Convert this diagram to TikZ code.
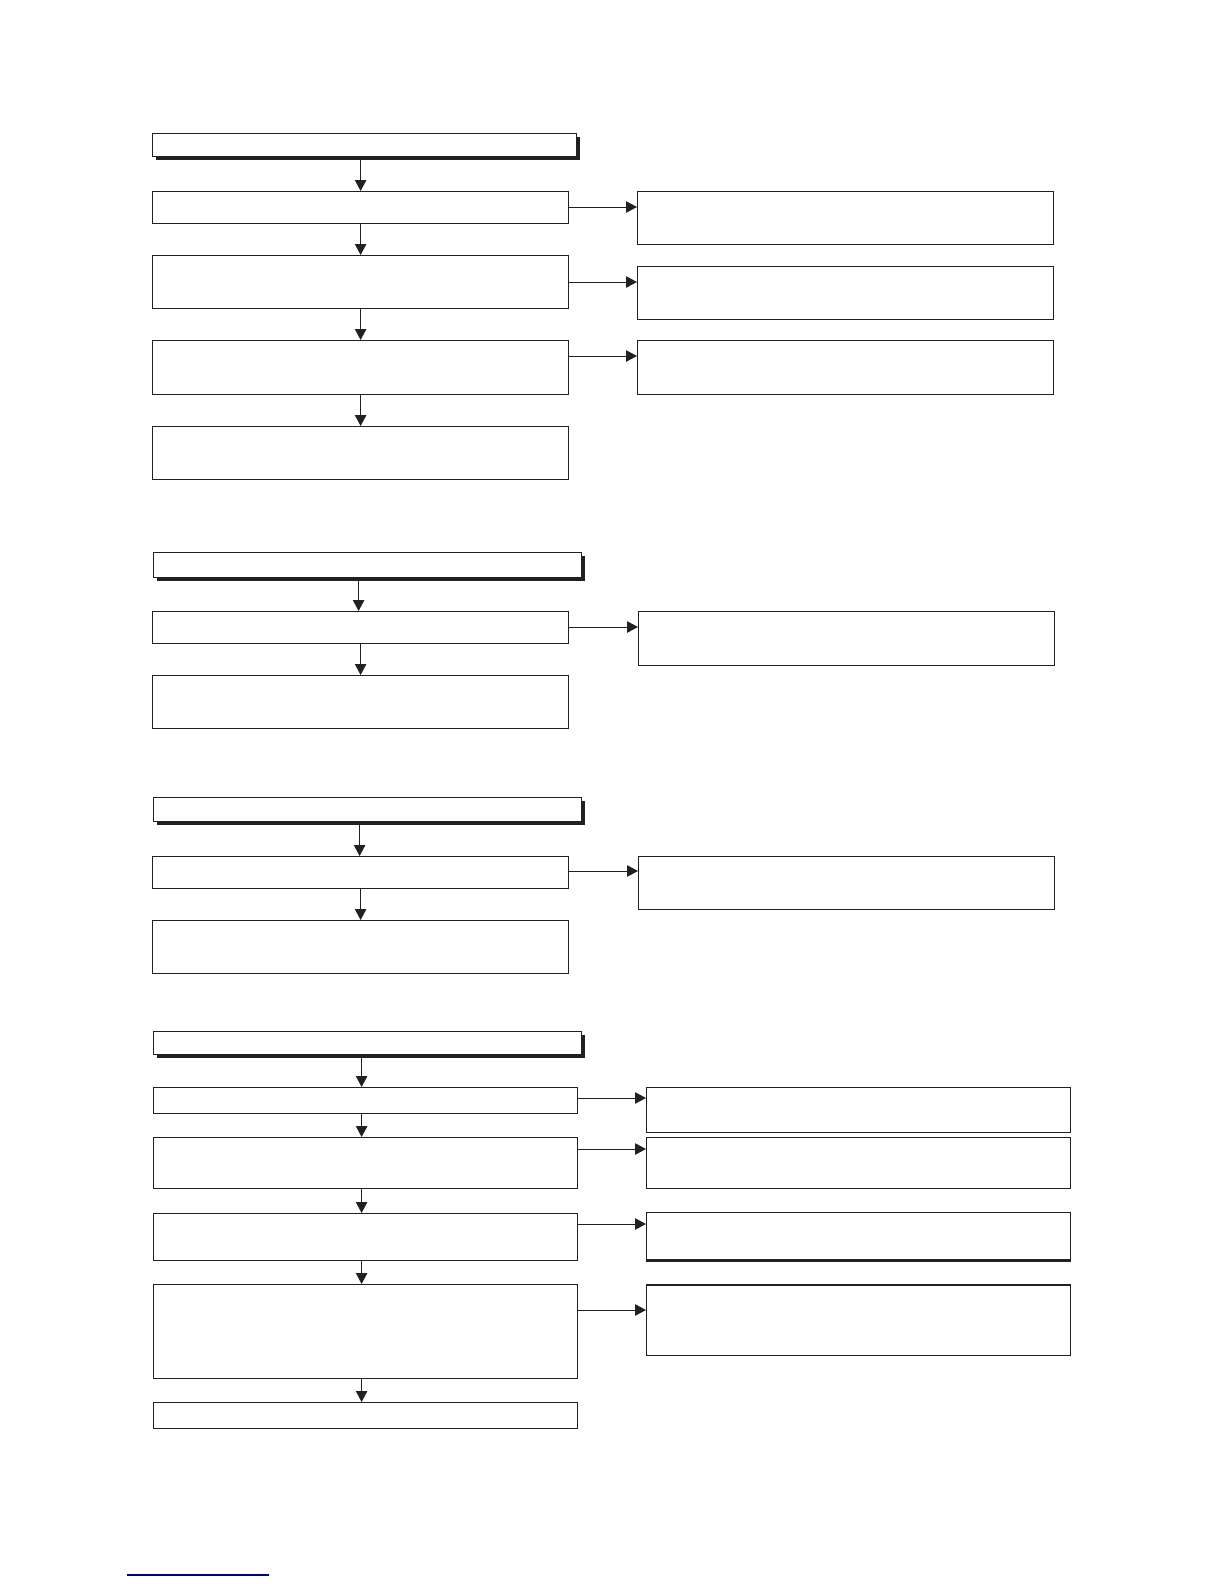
\documentclass[tikz,border=0pt]{standalone}
\usetikzlibrary{arrows.meta,shadows}

\tikzset{
  blk/.style={draw=black!87, line width=1.2pt, rectangle, inner sep=0pt, fill=white},
  kopfbox/.style={blk, drop shadow={shadow xshift=3.5pt, shadow yshift=-3.5pt, fill=black!87, opacity=1}},
  pfeil/.style={draw=black!87, line width=1pt, -{Triangle[length=11pt,width=11.5pt]}},
}

% name, x, y, breite, hoehe
\newcommand{\kasten}[5]{%
  \node[blk, anchor=north west, minimum width=#4pt, minimum height=#5pt] (#1) at (#2,#3) {};
}
\newcommand{\kopfzeile}[5]{%
  \node[kopfbox, anchor=north west, minimum width=#4pt, minimum height=#5pt] (#1) at (#2,#3) {};
}
% von, nach, abstand von oben
\newcommand{\seitlich}[3]{%
  \coordinate (#2-in) at ([yshift=-#3pt]#2.north west);
  \draw[pfeil] (#1.east |- #2-in) -- (#2-in);
}

\begin{document}
\begin{tikzpicture}[x=1pt,y=-1pt]
  \useasboundingbox (0,0) rectangle (1224,1584);

  %%%%%%%%%%%%%%%%%%%%%%%%%%%%%%%%%%%%%%%%%%%%%%%%%%%%%%%%%%%%%%%%%%%%%
  % Abschnitt 1
  \kopfzeile{kopfA}{152}{133}{424}{23}
  \kasten{a1}{152}{191}{416}{32}
  \kasten{a2}{152}{255}{416}{53}
  \kasten{a3}{152}{340}{416}{54}
  \kasten{a4}{152}{426}{416}{53}
  \kasten{ra1}{637}{191}{416}{53}
  \kasten{ra2}{637}{266}{416}{53}
  \kasten{ra3}{637}{340}{416}{54}

  \draw[pfeil] (kopfA.south -| a1.north) -- (a1.north);
  \draw[pfeil] (a1) -- (a2);
  \draw[pfeil] (a2) -- (a3);
  \draw[pfeil] (a3) -- (a4);
  \seitlich{a1}{ra1}{16}
  \seitlich{a2}{ra2}{16}
  \seitlich{a3}{ra3}{16}

  %%%%%%%%%%%%%%%%%%%%%%%%%%%%%%%%%%%%%%%%%%%%%%%%%%%%%%%%%%%%%%%%%%%%%
  % Abschnitt 2
  \kopfzeile{kopfB}{153}{552}{428}{25}
  \kasten{b1}{152}{611}{416}{32}
  \kasten{b2}{152}{675}{416}{53}
  \kasten{rb1}{638}{611}{416}{54}

  \draw[pfeil] ([xshift=-2pt]kopfB.south -| b1.north) -- ([xshift=-2pt]b1.north);
  \draw[pfeil] (b1) -- (b2);
  \seitlich{b1}{rb1}{16}

  %%%%%%%%%%%%%%%%%%%%%%%%%%%%%%%%%%%%%%%%%%%%%%%%%%%%%%%%%%%%%%%%%%%%%
  % Abschnitt 3
  \kopfzeile{kopfC}{153}{797}{428}{24}
  \kasten{c1}{152}{856}{416}{32}
  \kasten{c2}{152}{920}{416}{53}
  \kasten{rc1}{638}{856}{416}{53}

  \draw[pfeil] ([xshift=-1pt]kopfC.south -| c1.north) -- ([xshift=-1pt]c1.north);
  \draw[pfeil] (c1) -- (c2);
  \seitlich{c1}{rc1}{15}

  %%%%%%%%%%%%%%%%%%%%%%%%%%%%%%%%%%%%%%%%%%%%%%%%%%%%%%%%%%%%%%%%%%%%%
  % Abschnitt 4
  \kopfzeile{kopfD}{153}{1031}{428}{23}
  \kasten{d1}{153}{1087}{424}{26}
  \kasten{d2}{153}{1137}{424}{51}
  \kasten{d3}{153}{1213}{424}{47}
  \kasten{d4}{153}{1284}{424}{94}
  \kasten{d5}{153}{1402}{424}{26}
  \kasten{rd1}{646}{1087}{424}{45}
  \kasten{rd2}{646}{1137}{424}{51}
  \kasten{rd3}{646}{1212}{424}{47}
  \kasten{rd4}{646}{1285}{424}{70}
  % dicke Kanten
  \draw[black!87, line width=2.6pt] (rd3.south west) -- (rd3.south east);
  \draw[black!87, line width=2.6pt] (rd4.north west) -- (rd4.north east);

  \draw[pfeil] ([xshift=-4pt]kopfD.south -| d1.north) -- ([xshift=-4pt]d1.north);
  \draw[pfeil] ([xshift=-4pt]d1.south) -- ([xshift=-4pt]d2.north);
  \draw[pfeil] ([xshift=-4pt]d2.south) -- ([xshift=-4pt]d3.north);
  \draw[pfeil] ([xshift=-4pt]d3.south) -- ([xshift=-4pt]d4.north);
  \draw[pfeil] ([xshift=-4pt]d4.south) -- ([xshift=-4pt]d5.north);
  \seitlich{d1}{rd1}{11}
  \seitlich{d2}{rd2}{12}
  \seitlich{d3}{rd3}{12}
  \seitlich{d4}{rd4}{25}

  % Linie unten links
  \coordinate (linkA) at (127,1575);
  \coordinate (linkB) at (269,1575);
  \draw[blue!50!black, line width=1.5pt] (linkA) -- (linkB);
\end{tikzpicture}
\end{document}
